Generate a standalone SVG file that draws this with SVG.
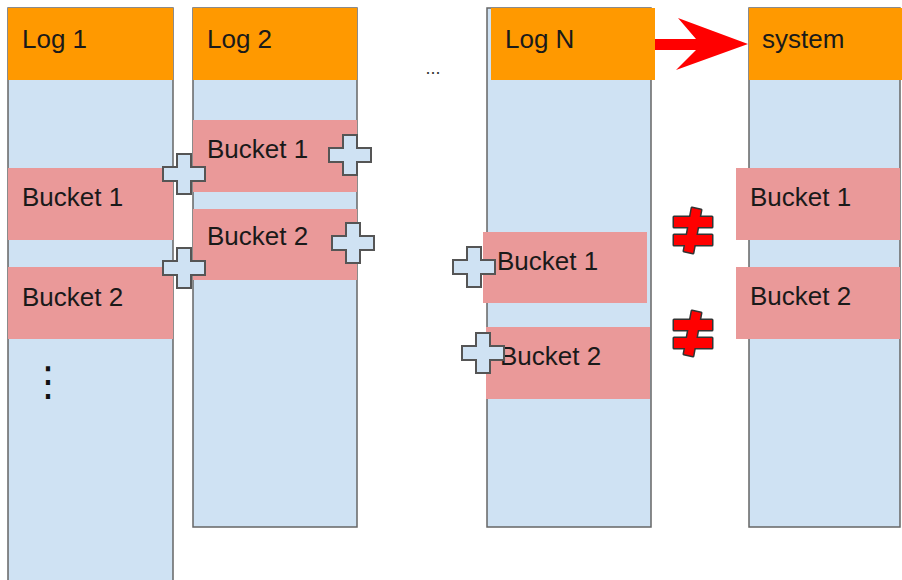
<svg xmlns="http://www.w3.org/2000/svg" width="902" height="580" viewBox="0 0 902 580">
<style>
.col{fill:#cfe2f3;stroke:#666;stroke-width:1.5}
.hdr{fill:#ff9900}
.bkt{fill:#ea9999}
.t{font-family:"Liberation Sans",Arial,sans-serif;font-size:26px;fill:#1a1a1a}
.plus{fill:#cfe2f3;stroke:#555;stroke-width:2}
.neq-s{fill:none;stroke:#333;stroke-width:3;stroke-linejoin:round}
.neq-f{fill:#ff0000}
</style>
<defs>
<path id="plus" d="M-7,-20 H7 V-7 H21 V7 H7 V20 H-7 V7 H-21 V-7 H-7 Z"/>
<g id="neqshape">
<rect x="-18" y="-13" width="38" height="10"/>
<rect x="-18" y="5" width="38" height="10"/>
<polygon points="0,-22 9,-20 1,23 -8,21"/>
</g>
</defs>
<g id="log1">
<rect class="col" x="8" y="8" width="165" height="590"/>
<rect class="hdr" x="8" y="8" width="165" height="72"/>
<text class="t" x="22" y="48">Log 1</text>
<rect class="bkt" x="8" y="168" width="165" height="72"/>
<text class="t" x="22" y="206">Bucket 1</text>
<rect class="bkt" x="8" y="267" width="165" height="72"/>
<text class="t" x="22" y="306">Bucket 2</text>
<text x="48" y="395" style="font-family:'DejaVu Sans',sans-serif;font-size:40px;fill:#111" text-anchor="middle">⋮</text>
</g>
<g id="log2">
<rect class="col" x="193" y="8" width="164" height="519"/>
<rect class="hdr" x="193" y="8" width="164" height="72"/>
<text class="t" x="207" y="48">Log 2</text>
<rect class="bkt" x="193" y="120" width="164" height="72"/>
<text class="t" x="207" y="158">Bucket 1</text>
<rect class="bkt" x="193" y="209" width="164" height="71"/>
<text class="t" x="207" y="245">Bucket 2</text>
</g>
<g id="ellipsis">
<text x="433" y="74" style="font-family:'Liberation Sans',Arial,sans-serif;font-size:18px;fill:#333" text-anchor="middle">...</text>
</g>
<g id="logN">
<rect class="col" x="487" y="8" width="164" height="519"/>
<rect class="hdr" x="491" y="8" width="164" height="72"/>
<text class="t" x="505" y="48">Log N</text>
<rect class="bkt" x="483" y="232" width="164" height="71"/>
<text class="t" x="497" y="270">Bucket 1</text>
<rect class="bkt" x="486" y="327" width="164" height="72"/>
<text class="t" x="500" y="365">Bucket 2</text>
</g>
<g id="system">
<rect class="col" x="749" y="8" width="151" height="519"/>
<rect class="hdr" x="749" y="8" width="153" height="72"/>
<text class="t" x="762" y="48">system</text>
<rect class="bkt" x="736" y="168" width="164" height="72"/>
<text class="t" x="750" y="206">Bucket 1</text>
<rect class="bkt" x="736" y="267" width="164" height="72"/>
<text class="t" x="750" y="305">Bucket 2</text>
</g>
<g id="connectors">
<polygon points="655,39 696,39 678,18 748,44 676,70 696,50 655,50" fill="#ff0000"/>
<use href="#plus" class="plus" x="184" y="174"/>
<use href="#plus" class="plus" x="184" y="268"/>
<use href="#plus" class="plus" x="350" y="155"/>
<use href="#plus" class="plus" x="353" y="243"/>
<use href="#plus" class="plus" x="474" y="267"/>
<use href="#plus" class="plus" x="483" y="353"/>
<g transform="translate(692,230)"><use href="#neqshape" class="neq-s"/><use href="#neqshape" class="neq-f"/></g>
<g transform="translate(692,333)"><use href="#neqshape" class="neq-s"/><use href="#neqshape" class="neq-f"/></g>
</g>
</svg>
